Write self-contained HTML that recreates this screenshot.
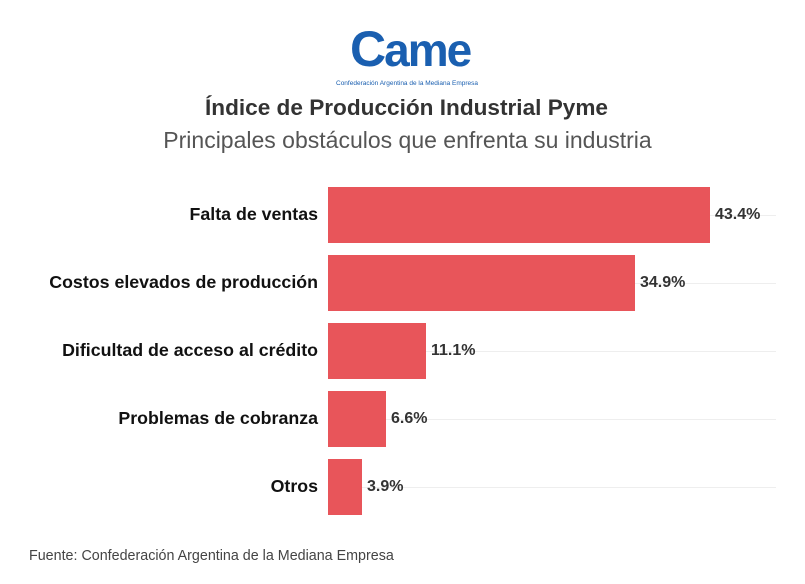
<!DOCTYPE html>
<html><head><meta charset="utf-8"><style>
html,body{margin:0;padding:0;background:#fff;}
body{width:805px;height:584px;position:relative;overflow:hidden;font-family:"Liberation Sans",sans-serif;}
.t{position:absolute;white-space:nowrap;}
.bar{position:absolute;left:328px;height:56px;background:#e8555a;}
.lab{position:absolute;right:487px;font-weight:bold;font-size:17.8px;color:#111;}
.val{position:absolute;font-weight:bold;font-size:16px;color:#333;}
.grid{position:absolute;left:328px;width:448px;height:1px;background:#eee;}
</style></head><body>
<div class="t" style="left:350px;top:20px;font-size:46px;font-weight:bold;color:#1a5fb0;letter-spacing:-2px;">
<span style="font-size:50px;">C</span>ame</div>
<div class="t" style="left:336px;top:80px;font-size:6.5px;color:#1a5fb0;">Confederación Argentina de la Mediana Empresa</div>
<div class="t" style="left:0;width:813px;text-align:center;top:95px;font-size:22.6px;font-weight:bold;color:#333;">Índice de Producción Industrial Pyme</div>
<div class="t" style="left:0;width:815px;text-align:center;top:127px;font-size:23px;color:#555;">Principales obstáculos que enfrenta su industria</div>

<div class="grid" style="top:215px"></div>
<div class="grid" style="top:283px"></div>
<div class="grid" style="top:351px"></div>
<div class="grid" style="top:419px"></div>
<div class="grid" style="top:487px"></div>

<div class="bar" style="top:187px;width:382px"></div>
<div class="bar" style="top:255px;width:307px"></div>
<div class="bar" style="top:323px;width:98px"></div>
<div class="bar" style="top:391px;width:58px"></div>
<div class="bar" style="top:459px;width:34px"></div>

<div class="lab" style="top:204px">Falta de ventas</div>
<div class="lab" style="top:272px">Costos elevados de producción</div>
<div class="lab" style="top:340px">Dificultad de acceso al crédito</div>
<div class="lab" style="top:408px">Problemas de cobranza</div>
<div class="lab" style="top:476px">Otros</div>

<div class="val" style="left:715px;top:206px">43.4%</div>
<div class="val" style="left:640px;top:274px">34.9%</div>
<div class="val" style="left:431px;top:342px">11.1%</div>
<div class="val" style="left:391px;top:410px">6.6%</div>
<div class="val" style="left:367px;top:478px">3.9%</div>

<div class="t" style="left:29px;top:548px;font-size:14.3px;color:#444;">Fuente: Confederación Argentina de la Mediana Empresa</div>
</body></html>
